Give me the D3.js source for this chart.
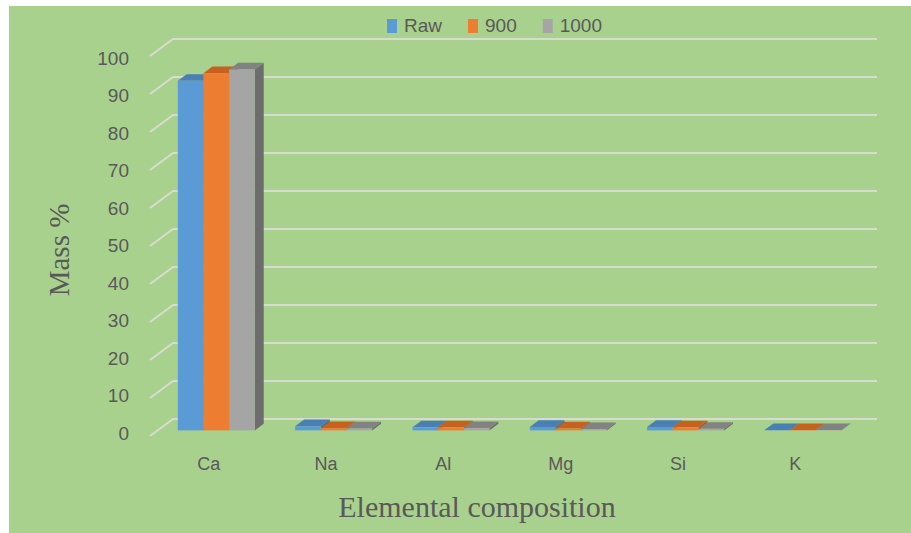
<!DOCTYPE html>
<html>
<head>
<meta charset="utf-8">
<script src="https://cdn.jsdelivr.net/npm/d3@7/dist/d3.min.js"></script>
<style>
  html, body { margin: 0; padding: 0; background: #ffffff; }
  svg { display: block; }
</style>
</head>
<body>
<svg id="chart" width="911" height="533"></svg>
<script>
// Elemental composition (mass %) of the raw sample and after calcination at 900 and 1000
const categories = ["Ca", "Na", "Al", "Mg", "Si", "K"];
const seriesNames = ["Raw", "900", "1000"];
const rawValues  = [92, 1.1, 0.8, 0.9, 0.9, 0.1];
const c900Values = [94, 0.6, 0.8, 0.5, 0.8, 0.1];
const c1000Values = [95, 0.5, 0.6, 0.3, 0.4, 0.1];
const yTicks = [0, 10, 20, 30, 40, 50, 60, 70, 80, 90, 100];

const seriesValues = [rawValues, c900Values, c1000Values];
const faceColors = {
  "Raw":  { front: "#5b9bd5", top: "#4a7fb4", side: "#3e6d99" },
  "900":  { front: "#ed7d31", top: "#c5621f", side: "#a9541b" },
  "1000": { front: "#a5a5a5", top: "#828282", side: "#6d6d6d" }
};

const svg = d3.select("#chart");
const W = 911, H = 533;

// chart area background
svg.append("rect").attr("x", 9).attr("y", 6).attr("width", W - 9).attr("height", H - 6)
  .attr("fill", "#a9d18e");

// oblique 3D projection: front plane + depth vector
const depth = { dx: 23, dy: -17 };
const x0 = 150, x1 = 854;
const y = d3.scaleLinear().domain([0, 100]).range([436, 56]);
// value labels sit slightly inside the front plane
const yLabel = d3.scaleLinear().domain([0, 100]).range([433, 58]);
const x = d3.scaleBand().domain(categories).range([x0, x1])
  .paddingInner(0.344).paddingOuter(0.172);
const xs = d3.scaleBand().domain(seriesNames).range([0, x.bandwidth()]);
const fFront = 0.33, fBack = 0.72;

// gridlines: side-wall diagonal then back wall
const grid = svg.append("g");
yTicks.forEach(v => {
  const yf = y(v);
  grid.append("path")
    .attr("d", `M${x0},${yf} L${x0 + depth.dx},${yf + depth.dy} L${x1 + depth.dx},${yf + depth.dy}`)
    .attr("fill", "none")
    .attr("stroke", "#d8dccf")
    .attr("stroke-width", 2);
});

// bars drawn left to right so neighbouring front faces cover hidden sides
const bars = svg.append("g");
categories.forEach((cat, ci) => {
  seriesNames.forEach((s, si) => {
    const v = seriesValues[si][ci];
    const ox = depth.dx * fFront, oy = depth.dy * fFront;
    const bx = depth.dx * (fBack - fFront), by = depth.dy * (fBack - fFront);
    const left = x(cat) + xs(s) + ox;
    const right = left + xs.bandwidth();
    const bottom = y(0) + oy;
    const top = y(v) + oy;
    const col = faceColors[s];
    // right side face
    bars.append("path")
      .attr("d", `M${right},${bottom} L${right + bx},${bottom + by} L${right + bx},${top + by} L${right},${top} Z`)
      .attr("fill", col.side);
    // top face
    bars.append("path")
      .attr("d", `M${left},${top} L${left + bx},${top + by} L${right + bx},${top + by} L${right},${top} Z`)
      .attr("fill", col.top);
    // front face
    bars.append("rect")
      .attr("x", left).attr("y", top)
      .attr("width", xs.bandwidth()).attr("height", bottom - top)
      .attr("fill", col.front);
  });
});

// value axis labels
const yAxis = svg.append("g")
  .attr("transform", `translate(${x0 - 21},0)`)
  .call(d3.axisLeft(yLabel).tickValues(yTicks).tickSize(0).tickPadding(0));
yAxis.select(".domain").remove();
yAxis.selectAll("text")
  .attr("font-family", "'Liberation Sans', Arial, sans-serif")
  .attr("font-size", 19)
  .attr("fill", "#595959");

// category axis labels
const xAxis = svg.append("g")
  .attr("transform", `translate(0,457)`)
  .call(d3.axisBottom(x).tickSize(0).tickPadding(0));
xAxis.select(".domain").remove();
xAxis.selectAll("text")
  .attr("font-family", "'Liberation Sans', Arial, sans-serif")
  .attr("font-size", 18)
  .attr("fill", "#595959");

// axis titles
svg.append("text")
  .attr("transform", "translate(69,250) rotate(-90)")
  .attr("text-anchor", "middle")
  .attr("font-family", "'Liberation Serif', 'Times New Roman', serif")
  .attr("font-size", 29)
  .attr("fill", "#595959")
  .text("Mass %");

svg.append("text")
  .attr("x", 477).attr("y", 517)
  .attr("text-anchor", "middle")
  .attr("font-family", "'Liberation Serif', 'Times New Roman', serif")
  .attr("font-size", 30)
  .attr("fill", "#595959")
  .text("Elemental composition");

// legend
const legend = svg.append("g").attr("transform", "translate(387,0)");
let lx = 0;
seriesNames.forEach(s => {
  const item = legend.append("g").attr("transform", `translate(${lx},0)`);
  item.append("rect").attr("x", 0).attr("y", 19).attr("width", 10).attr("height", 14)
    .attr("fill", faceColors[s].front);
  const t = item.append("text").attr("x", 17).attr("y", 32)
    .attr("font-family", "'Liberation Sans', Arial, sans-serif")
    .attr("font-size", 19)
    .attr("fill", "#595959")
    .text(s);
  lx += 17 + t.node().getComputedTextLength() + 26;
});
</script>
</body>
</html>
